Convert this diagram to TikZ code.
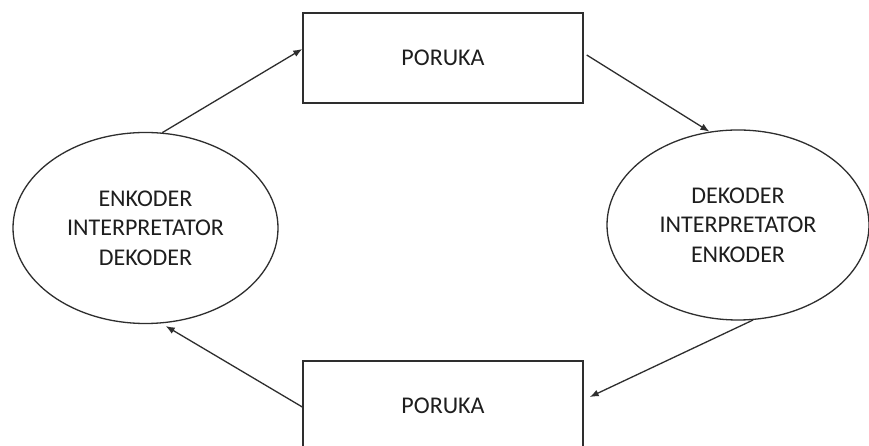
\documentclass[tikz,border=0pt]{standalone}
\usepackage{fontspec}
\setmainfont{Carlito}
\usetikzlibrary{arrows.meta,shapes.geometric}
\definecolor{ln}{HTML}{2E2E2E}
\definecolor{tx}{HTML}{1E1E1E}
\tikzset{
  msgbox/.style={draw=ln, line width=1.4pt, rectangle, minimum width=280pt, minimum height=90pt, inner sep=0pt, text=tx, font=\fontsize{24}{29.5}\selectfont},
  agent/.style={draw=ln, line width=1.3pt, ellipse, inner sep=0pt, align=center, text=tx, font=\fontsize{24}{29.5}\selectfont},
  flow/.style={draw=ln, line width=1.3pt, -{Latex[length=9pt,width=7pt]}}
}
\begin{document}
\begin{tikzpicture}[x=1pt,y=1pt]
\clip (0,0) rectangle (869,446);
\fill[white] (0,0) rectangle (869,446);
\node[msgbox] (top) at (443,388) {PORUKA};
\node[msgbox] (bot) at (443,40) {PORUKA};
\node[agent, minimum width=265pt, minimum height=191pt] (le) at (145.5,218) {ENKODER\\INTERPRETATOR\\DEKODER};
\node[agent, minimum width=262pt, minimum height=190pt] (re) at (738,221) {DEKODER\\INTERPRETATOR\\ENKODER};
\draw[flow] (le.80) -- ([yshift=9pt]top.west);
\draw[flow] ([shift={(3pt,3pt)}]top.east) -- (re.107);
\draw[flow] (re.-81) -- ([shift={(6pt,9pt)}]bot.east);
\draw[flow] ([yshift=-1pt]bot.west) -- ([yshift=-3pt]le.-78);
\end{tikzpicture}
\end{document}
